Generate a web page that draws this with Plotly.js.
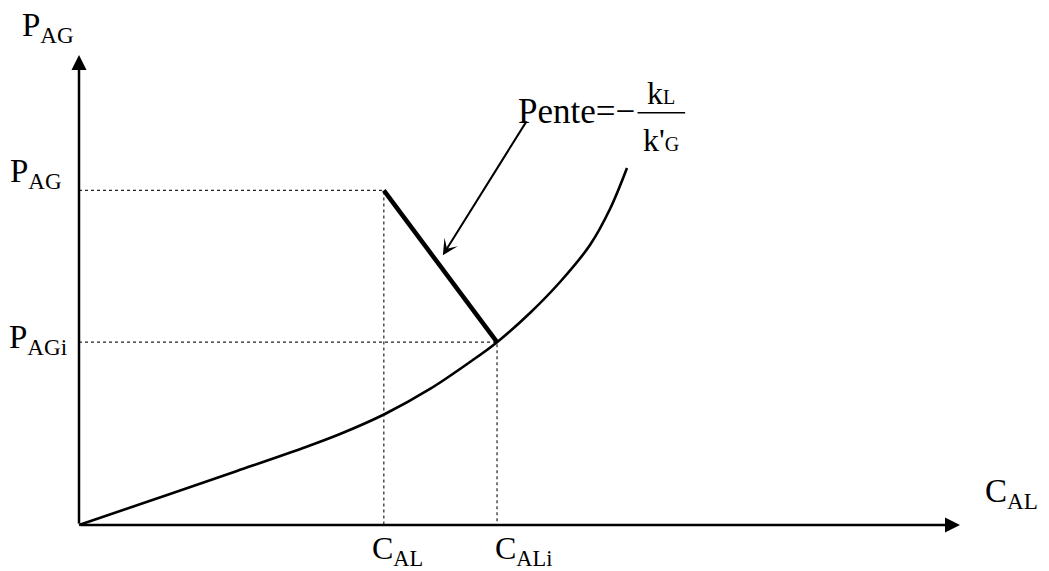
<!DOCTYPE html>
<html>
<head>
<meta charset="utf-8">
<script src="https://cdn.plot.ly/plotly-3.0.1.min.js"></script>
<style>
  html, body { margin: 0; padding: 0; background: #ffffff; }
  #chart { width: 1049px; height: 571px; }
</style>
</head>
<body>
<div id="chart"></div>
<script>
// Equilibrium curve P_AG = f(C_AL)
const curveX = [0, 1.033, 1.793, 2.543, 2.963, 3.473, 3.984, 4.438, 4.745, 5.119, 5.460, 5.800, 6.027, 6.220];
const curveY = [0, 0.66, 1.149, 1.638, 1.936, 2.362, 2.894, 3.468, 3.89, 4.511, 5.170, 5.957, 6.723, 7.596];

// Bulk and interface concentrations (x) and partial pressures (y)
const concVals = [3.46, 4.745];
const concText = ['C<sub>AL</sub>', 'C<sub>ALi</sub>'];
const pressVals = [7.12, 3.89];
const pressText = ['P<sub>AG</sub>', 'P<sub>AGi</sub>'];

// Axis lengths and labels
const axisMax = 10;
const xAxisLabel = 'C<sub>AL</sub>';
const yAxisLabel = 'P<sub>AG</sub>';

// Slope annotation: text, fraction and pointer
const slopeText = 'Pente=\u2212';
const slopeNum = 'k<span style="font-size:20px">L</span>';
const slopeDen = "k'<span style=\"font-size:20px\">G</span>";
const pointerTail = [5.09, 8.62];
const pointerTip = [4.13, 5.74];
const fracPos = { x: 6.61, yNum: 9.2, yBar: 8.77, yDen: 8.2, half: 0.27 };
const slopeTextPos = { x: 6.33, y: 8.8 };

const serif = 'Liberation Serif, Times New Roman, serif';
const ink = '#000000';

const traces = [
  // dotted guides from axes to (C_AL, P_AG) and (C_ALi, P_AGi)
  {
    x: [0, concVals[0], concVals[0]], y: [pressVals[0], pressVals[0], 0],
    mode: 'lines', line: { color: '#222', width: 1.2, dash: 'dot' }
  },
  {
    x: [0, concVals[1], concVals[1]], y: [pressVals[1], pressVals[1], 0],
    mode: 'lines', line: { color: '#222', width: 1.2, dash: 'dot' }
  },
  // equilibrium curve
  {
    x: curveX, y: curveY, mode: 'lines',
    line: { color: ink, width: 2.6, shape: 'spline', smoothing: 1 }
  },
  // operating line of slope -kL/k'G
  {
    x: [concVals[0], concVals[1]], y: [pressVals[0], pressVals[1]],
    mode: 'lines', line: { color: ink, width: 4.5 }
  }
];

const labelFont = { family: serif, size: 33, color: ink };
const bottomFont = { family: serif, size: 32, color: ink };

const annotations = [
  // axes drawn as arrows from the origin
  {
    x: axisMax, y: 0, ax: 0, ay: 0, xref: 'x', yref: 'y', axref: 'x', ayref: 'y',
    text: '', showarrow: true, arrowhead: 2, arrowsize: 1.2, arrowwidth: 2.5, arrowcolor: ink, standoff: 0
  },
  {
    x: 0, y: axisMax, ax: 0, ay: 0, xref: 'x', yref: 'y', axref: 'x', ayref: 'y',
    text: '', showarrow: true, arrowhead: 2, arrowsize: 1.2, arrowwidth: 2.5, arrowcolor: ink, standoff: 0
  },
  // axis names
  {
    x: 0, y: axisMax, xref: 'x', yref: 'y', text: yAxisLabel, showarrow: false,
    xanchor: 'right', yanchor: 'middle', xshift: -3, yshift: 28, font: labelFont
  },
  {
    x: axisMax, y: 0, xref: 'x', yref: 'y', text: xAxisLabel, showarrow: false,
    xanchor: 'center', yanchor: 'middle', xshift: 51, yshift: 32, font: labelFont
  },
  // pressure labels on the vertical axis
  {
    x: 0, y: pressVals[0], xref: 'x', yref: 'y', text: pressText[0], showarrow: false,
    xanchor: 'right', yanchor: 'middle', xshift: -15, yshift: 17, font: labelFont
  },
  {
    x: 0, y: pressVals[1], xref: 'x', yref: 'y', text: pressText[1], showarrow: false,
    xanchor: 'right', yanchor: 'middle', xshift: -10, yshift: 3, font: labelFont
  },
  // concentration labels under the horizontal axis
  {
    x: concVals[0], y: 0, xref: 'x', yref: 'y', text: concText[0], showarrow: false,
    xanchor: 'center', yanchor: 'middle', xshift: 14, yshift: -25, font: bottomFont
  },
  {
    x: concVals[1], y: 0, xref: 'x', yref: 'y', text: concText[1], showarrow: false,
    xanchor: 'left', yanchor: 'middle', xshift: -4, yshift: -25, font: bottomFont
  },
  // slope label and its fraction
  {
    x: slopeTextPos.x, y: slopeTextPos.y, xref: 'x', yref: 'y', text: slopeText, showarrow: false,
    xanchor: 'right', yanchor: 'middle',
    font: { family: serif, size: 35, color: ink }
  },
  {
    x: fracPos.x, y: fracPos.yNum, xref: 'x', yref: 'y', text: slopeNum, showarrow: false,
    xanchor: 'center', yanchor: 'middle',
    font: { family: serif, size: 32, color: ink }
  },
  {
    x: fracPos.x, y: fracPos.yDen, xref: 'x', yref: 'y', text: slopeDen, showarrow: false,
    xanchor: 'center', yanchor: 'middle',
    font: { family: serif, size: 32, color: ink }
  },
  // pointer from the label to the operating line
  {
    x: pointerTip[0], y: pointerTip[1], ax: pointerTail[0], ay: pointerTail[1],
    xref: 'x', yref: 'y', axref: 'x', ayref: 'y',
    text: '', showarrow: true, arrowhead: 3, arrowsize: 1.3, arrowwidth: 2, arrowcolor: ink, standoff: 0
  }
];

const shapes = [
  // fraction bar
  {
    type: 'line', xref: 'x', yref: 'y',
    x0: fracPos.x - fracPos.half, x1: fracPos.x + fracPos.half, y0: fracPos.yBar, y1: fracPos.yBar,
    line: { color: ink, width: 1.6 }
  }
];

const layout = {
  width: 1049, height: 571,
  margin: { l: 0, r: 0, t: 0, b: 0 },
  paper_bgcolor: '#ffffff', plot_bgcolor: '#ffffff',
  showlegend: false, hovermode: false,
  xaxis: { range: [-0.8967, 11.0102], visible: false, fixedrange: true },
  yaxis: { range: [-0.9787, 11.1702], visible: false, fixedrange: true },
  annotations: annotations,
  shapes: shapes
};

Plotly.newPlot('chart', traces, layout, { displayModeBar: false, staticPlot: true });
</script>
</body>
</html>
